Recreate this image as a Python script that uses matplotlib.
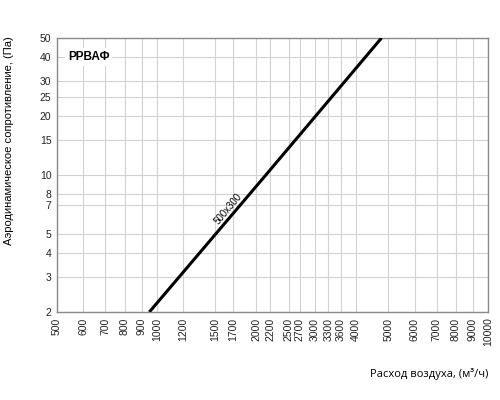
import matplotlib
matplotlib.use("Agg")
import matplotlib.pyplot as plt

plt.rcParams['font.family'] = ['Liberation Sans', 'DejaVu Sans']

# расход воздуха (м3/ч) и сопротивление (Па), линия 500x300
flow = [950, 2135, 4770]
pressure = [2, 10, 50]
series_name = "500x300"

x_ticks = [500, 600, 700, 800, 900, 1000, 1200, 1500, 1700, 2000, 2200, 2500,
           2700, 3000, 3300, 3600, 4000, 5000, 6000, 7000, 8000, 9000, 10000]
y_ticks = [2, 3, 4, 5, 7, 8, 10, 15, 20, 25, 30, 40, 50]

fig = plt.figure(figsize=(5, 4), dpi=100)
ax = fig.add_axes([0.114, 0.22, 0.862, 0.685])

ax.set_xscale('log')
ax.set_yscale('log')
ax.set_xlim(500, 10000)
ax.set_ylim(2, 50)

ax.plot(flow, pressure, color='black', lw=2.2, solid_capstyle='butt', zorder=3)

ax.set_xticks(x_ticks)
ax.set_xticklabels([str(v) for v in x_ticks], rotation=90, fontsize=7.5)
ax.set_yticks(y_ticks)
ax.set_yticklabels([str(v) for v in y_ticks], fontsize=7.5)
ax.minorticks_off()
ax.tick_params(length=0, pad=4, colors='#222222')

ax.grid(True, color='#d2d2d2', lw=0.8)
for s in ax.spines.values():
    s.set_color('#8a8a8a')
    s.set_linewidth(1)

ax.text(1640, 6.7, series_name, rotation=50, rotation_mode='anchor',
        ha='center', va='center', fontsize=7, zorder=4)

ax.text(0.025, 0.93, "РРВАФ", transform=ax.transAxes, fontsize=8.5, fontweight='bold',
        ha='left', va='center', zorder=5,
        bbox=dict(facecolor='white', edgecolor='none', pad=2))

ax.set_ylabel("Аэродинамическое сопротивление, (Па)", fontsize=8)
ax.yaxis.set_label_coords(-0.1, 0.625)
fig.text(0.976, 0.065, "Расход воздуха, (м³/ч)", ha='right', va='center',
         fontsize=8, family=['Open Sans', 'DejaVu Sans'])

fig.savefig("out.png", dpi=100)
